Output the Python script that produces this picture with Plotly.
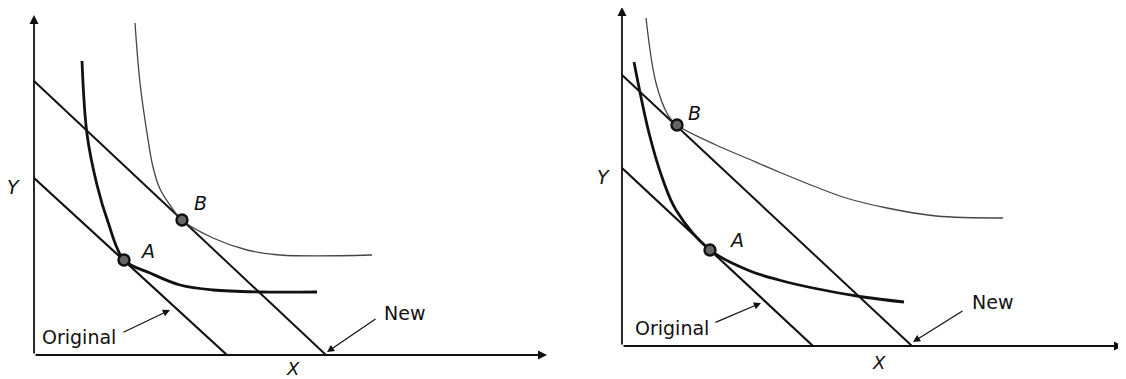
import plotly.graph_objects as go

# ---------------- data ----------------
# Left panel
L_orig_x = [0.0, 19.3]
L_orig_y = [17.7, 0.0]
L_new_x = [0.0, 29.2]
L_new_y = [27.4, 0.0]
L_curveA_x = [4.8, 5.3, 6.3, 7.4, 9.0, 11.6, 14.6, 17.9, 22.6, 28.3]
L_curveA_y = [29.4, 22.1, 17.0, 13.3, 9.5, 8.2, 7.0, 6.5, 6.3, 6.3]
L_curveB_x = [10.1, 10.6, 11.3, 11.9, 12.6, 13.6, 14.8, 17.9, 21.3, 24.6, 33.8]
L_curveB_y = [33.2, 27.2, 22.2, 18.8, 16.6, 15.0, 13.5, 11.7, 10.5, 10.0, 10.0]
L_point_x = [9.0, 14.8]
L_point_y = [9.5, 13.5]
L_point_lab = ["A", "B"]

# Right panel
R_orig_x = [0.0, 19.1]
R_orig_y = [17.8, 0.0]
R_new_x = [0.0, 29.0]
R_new_y = [27.1, 0.0]
R_curveA_x = [1.2, 2.7, 4.1, 5.4, 8.8, 12.8, 15.7, 19.1, 24.1, 28.2]
R_curveA_y = [28.4, 21.3, 16.6, 13.6, 9.6, 7.5, 6.6, 5.8, 4.9, 4.4]
R_curveB_x = [2.4, 3.4, 4.6, 5.5, 9.4, 12.2, 15.7, 19.4, 22.4, 26.5, 31.4, 38.1]
R_curveB_y = [32.8, 26.3, 23.1, 22.1, 20.1, 18.9, 17.4, 15.9, 14.8, 13.8, 13.0, 12.8]
R_point_x = [8.8, 5.5]
R_point_y = [9.6, 22.1]
R_point_lab = ["A", "B"]

axis_labels = ["X", "Y"]
line_labels = ["Original", "New"]

FONT = "DejaVu Sans"
fig = go.Figure()


def add_panel(xa, ya, ox, oy, nx, ny, ax_, ay_, bx_, by_, px, py):
    fig.add_trace(go.Scatter(x=ox, y=oy, mode="lines", xaxis=xa, yaxis=ya,
                             line=dict(color="#111", width=2.2), hoverinfo="skip"))
    fig.add_trace(go.Scatter(x=nx, y=ny, mode="lines", xaxis=xa, yaxis=ya,
                             line=dict(color="#111", width=2.0), hoverinfo="skip"))
    fig.add_trace(go.Scatter(x=bx_, y=by_, mode="lines", xaxis=xa, yaxis=ya,
                             line=dict(color="#444", width=1.3, shape="spline", smoothing=1.0),
                             hoverinfo="skip"))
    fig.add_trace(go.Scatter(x=ax_, y=ay_, mode="lines", xaxis=xa, yaxis=ya,
                             line=dict(color="#111", width=2.8, shape="spline", smoothing=1.0),
                             hoverinfo="skip"))
    fig.add_trace(go.Scatter(x=px, y=py, mode="markers", xaxis=xa, yaxis=ya,
                             marker=dict(size=11, color="#666",
                                         line=dict(color="#111", width=2.4)),
                             hoverinfo="skip"))


add_panel("x", "y", L_orig_x, L_orig_y, L_new_x, L_new_y,
          L_curveA_x, L_curveA_y, L_curveB_x, L_curveB_y, L_point_x, L_point_y)
add_panel("x2", "y2", R_orig_x, R_orig_y, R_new_x, R_new_y,
          R_curveA_x, R_curveA_y, R_curveB_x, R_curveB_y, R_point_x, R_point_y)

ann = []


def arrow(xr, yr, x0, y0, x1, y1, width=1.6, size=1.0, head=2):
    ann.append(dict(xref=xr, yref=yr, axref=xr, ayref=yr, x=x1, y=y1, ax=x0, ay=y0,
                    showarrow=True, arrowhead=head, arrowsize=size, arrowwidth=width,
                    arrowcolor="#111", text=""))


def label(xr, yr, x, y, text, size=19):
    ann.append(dict(xref=xr, yref=yr, x=x, y=y, text=text, showarrow=False,
                    font=dict(family=FONT, size=size, color="#111"),
                    xanchor="center", yanchor="middle"))


# Left panel axes and labels
arrow("x", "y", 0, 0, 0, 34.0, width=1.8)
arrow("x", "y", 0, 0, 51.3, 0, width=1.8)
label("x", "y", -2.1, 16.8, "<i>" + axis_labels[1] + "</i>")
label("x", "y", 25.9, -1.3, "<i>" + axis_labels[0] + "</i>", size=18)
label("x", "y", 11.3, 10.4, "<i>" + L_point_lab[0] + "</i>")
label("x", "y", 16.6, 15.2, "<i>" + L_point_lab[1] + "</i>")
label("x", "y", 4.5, 1.8, line_labels[0])
label("x", "y", 37.0, 4.2, line_labels[1])
arrow("x", "y", 8.8, 2.2, 13.6, 4.5, width=1.2, size=1.2)
arrow("x", "y", 34.3, 3.7, 29.3, 0.3, width=1.2, size=1.2)

# Right panel axes and labels
arrow("x2", "y2", 0, 0, 0, 33.9, width=1.8)
arrow("x2", "y2", 0, 0, 50.1, 0, width=1.8)
label("x2", "y2", -1.9, 16.9, "<i>" + axis_labels[1] + "</i>")
label("x2", "y2", 25.7, -1.6, "<i>" + axis_labels[0] + "</i>", size=18)
label("x2", "y2", 11.4, 10.6, "<i>" + R_point_lab[0] + "</i>")
label("x2", "y2", 7.2, 23.3, "<i>" + R_point_lab[1] + "</i>")
label("x2", "y2", 5.0, 1.8, line_labels[0])
label("x2", "y2", 37.0, 4.4, line_labels[1])
arrow("x2", "y2", 9.2, 2.3, 13.9, 4.3, width=1.2, size=1.2)
arrow("x2", "y2", 34.2, 3.6, 29.1, 0.4, width=1.2, size=1.2)

# The page body has an 8px margin, so the figure is 8px smaller and the
# axis ranges start where the page content starts.
W, H = 1118, 371
hidden = dict(visible=False, showgrid=False, zeroline=False, fixedrange=True)
fig.update_layout(
    width=W, height=H,
    margin=dict(l=0, r=0, t=0, b=0, pad=0),
    paper_bgcolor="white", plot_bgcolor="white",
    showlegend=False,
    xaxis=dict(domain=[0, 552 / W], range=[-2.6, 52.6], **hidden),
    yaxis=dict(domain=[0, 1], range=[-2.4, 34.7], **hidden),
    xaxis2=dict(domain=[558 / W, 1], range=[-5.6, 50.4], anchor="y2", **hidden),
    yaxis2=dict(domain=[0, 1], range=[-3.3, 33.8], anchor="x2", **hidden),
    annotations=ann,
)

fig.write_html("out.html")
